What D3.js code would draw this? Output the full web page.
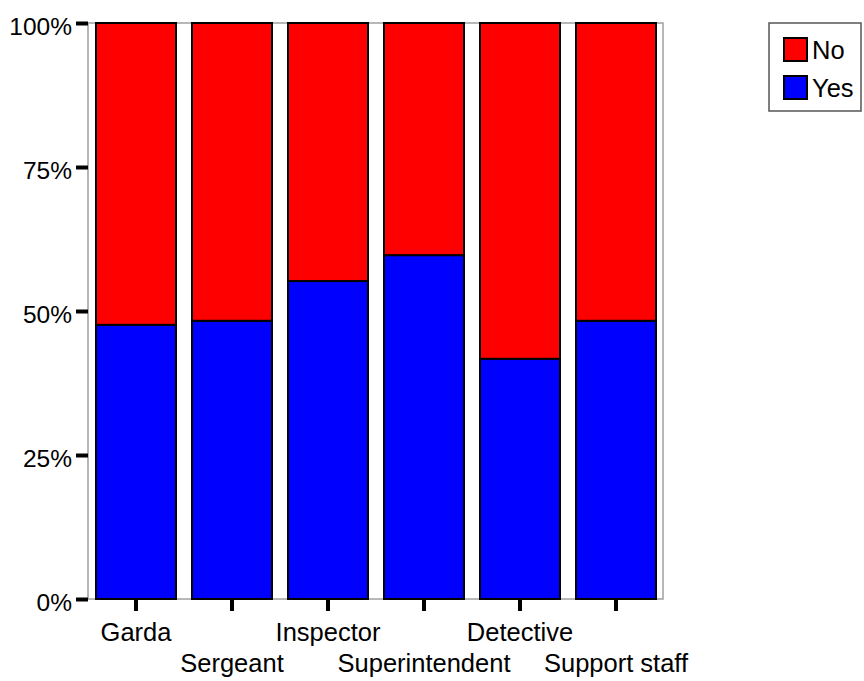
<!DOCTYPE html>
<html><head><meta charset="utf-8">
<script src="https://cdn.jsdelivr.net/npm/d3@7"></script>
<style>body{margin:0;background:#fff}svg{display:block}text{font-family:"Liberation Sans",Arial,sans-serif;fill:#000}</style>
</head><body>
<svg id="c" width="864" height="681"></svg>
<script>
const categories = ["Garda","Sergeant","Inspector","Superintendent","Detective","Support staff"];
const yesShare = [0.476, 0.483, 0.552, 0.597, 0.417, 0.483];
const noShare = yesShare.map(v => 1 - v);
const yTickValues = [0, 0.25, 0.5, 0.75, 1];
const yTickLabels = ["0%","25%","50%","75%","100%"];
const seriesNames = ["No","Yes"];
const seriesColors = ["#ff0000","#0000ff"];

(function(){
const svg = d3.select("#c");
const pL = 88, pR = 664, pT = 23, pB = 599;
const x = d3.scaleBand().domain(categories).range([pL, pR]).paddingInner(1/6).paddingOuter(1/12);
const y = d3.scaleLinear().domain([0, 1]).range([pB, pT]);

// frame
svg.append("rect").attr("x", pL).attr("y", pT).attr("width", pR - 1 - pL).attr("height", pB - pT)
  .attr("fill", "none").attr("stroke", "#a0a0a0").attr("stroke-width", 1.5);

const data = categories.map((c, i) => ({c, yes: yesShare[i], no: noShare[i]}));
const stack = d3.stack().keys(["yes","no"])(data);
const colorFor = {yes: seriesColors[1], no: seriesColors[0]};
stack.forEach(layer => {
  svg.append("g").selectAll("rect").data(layer).join("rect")
    .attr("x", d => x(d.data.c))
    .attr("width", x.bandwidth())
    .attr("y", d => y(d[1]))
    .attr("height", d => y(d[0]) - y(d[1]))
    .attr("fill", colorFor[layer.key])
    .attr("stroke", "#000").attr("stroke-width", 2);
});

// y axis
const yAxis = svg.append("g").attr("transform", `translate(${pL},0)`)
  .call(d3.axisLeft(y).tickValues(yTickValues).tickFormat((d, i) => yTickLabels[i]).tickSize(12).tickPadding(4));
yAxis.select(".domain").remove();
yAxis.selectAll(".tick line").attr("stroke", "#000").attr("stroke-width", 4);
yAxis.selectAll(".tick text").attr("font-size", 24.5).attr("font-family", "Liberation Sans, Arial, sans-serif").attr("dy", "0.47em");

// x axis
const xAxis = svg.append("g").attr("transform", `translate(0,${pB})`)
  .call(d3.axisBottom(x).tickSize(12).tickPadding(0));
xAxis.select(".domain").remove();
xAxis.selectAll(".tick line").attr("stroke", "#000").attr("stroke-width", 4);
xAxis.selectAll(".tick text").attr("font-size", 25.5).attr("font-family", "Liberation Sans, Arial, sans-serif")
  .attr("dy", null).attr("y", (d, i) => i % 2 === 0 ? 42 : 73);

// legend
const lg = svg.append("g");
lg.append("rect").attr("x", 769).attr("y", 23).attr("width", 92).attr("height", 88)
  .attr("fill", "#fff").attr("stroke", "#555").attr("stroke-width", 1.5);
seriesNames.forEach((n, i) => {
  lg.append("rect").attr("x", 784).attr("y", 38 + i * 38).attr("width", 23).attr("height", 23)
    .attr("fill", seriesColors[i]).attr("stroke", "#000").attr("stroke-width", 2);
  lg.append("text").attr("x", 812).attr("y", 59 + i * 38).attr("font-size", 25.5).text(n);
});
})();
</script>
</body></html>
